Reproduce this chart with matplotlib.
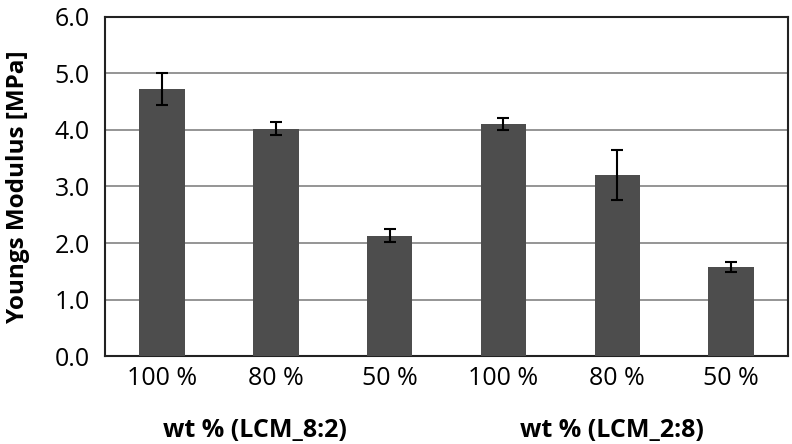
import matplotlib.pyplot as plt
import numpy as np

labels = ['100 %', '80 %', '50 %', '100 %', '80 %', '50 %']
modulus = [4.72, 4.02, 2.13, 4.10, 3.20, 1.58]
err = [0.285, 0.115, 0.115, 0.105, 0.445, 0.085]
groups = ['wt % (LCM_8:2)', 'wt % (LCM_2:8)']

plt.rcParams['font.family'] = ['Open Sans', 'DejaVu Sans']

fig = plt.figure(figsize=(7.92, 4.44), dpi=100)
ax = fig.add_axes([0.1326, 0.198, 0.8624, 0.764])

x = np.arange(len(modulus))
ax.bar(x, modulus, width=0.4, color='#4d4d4d', zorder=3,
       yerr=err, error_kw=dict(ecolor='black', elinewidth=1.5, capsize=4, capthick=1.5))

ax.set_xlim(-0.5, len(modulus) - 0.5)
ax.set_ylim(0, 6)
ax.set_yticks(np.arange(0, 6.1, 1.0))
ax.set_yticklabels(['%.1f' % v for v in np.arange(0, 6.1, 1.0)], fontsize=18)
ax.set_xticks(x)
ax.set_xticklabels(labels, fontsize=18)
ax.tick_params(axis='x', length=0, pad=7)
ax.tick_params(axis='y', length=0, pad=11)
ax.yaxis.grid(True, color='#8c8c8c', linewidth=1.3, zorder=0)
ax.set_axisbelow(True)
for s in ax.spines.values():
    s.set_linewidth(1.5)
    s.set_color('#222222')

ax.set_ylabel('Youngs Modulus [MPa]', fontsize=17.5, fontweight='bold')
ax.yaxis.set_label_coords(-0.11, 0.5)

ax.text(0.82, -0.218, groups[0], transform=ax.get_xaxis_transform(),
        ha='center', va='center', fontsize=18, fontweight='bold')
ax.text(3.95, -0.218, groups[1], transform=ax.get_xaxis_transform(),
        ha='center', va='center', fontsize=18, fontweight='bold')

fig.savefig('out.png', dpi=100)
